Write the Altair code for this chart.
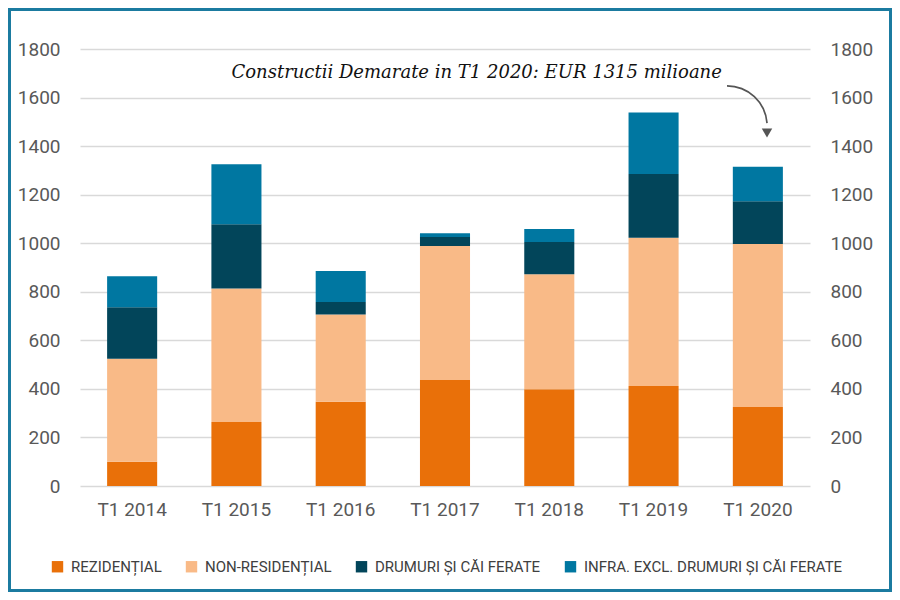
import altair as alt
import pandas as pd

quarters = ["T1 2014", "T1 2015", "T1 2016", "T1 2017", "T1 2018", "T1 2019", "T1 2020"]
series = ["REZIDENȚIAL", "NON-RESIDENȚIAL", "DRUMURI ȘI CĂI FERATE", "INFRA. EXCL. DRUMURI ȘI CĂI FERATE"]
colors = ["#E97009", "#F9BA87", "#02455A", "#0077A1"]
rezidential = [100, 264, 347, 437, 398, 412, 325]
non_rezidential = [424, 549, 359, 552, 474, 611, 672]
drumuri = [212, 265, 52, 37, 133, 262, 176]
infra = [128, 247, 128, 15, 54, 253, 142]
y_ticks = [0, 200, 400, 600, 800, 1000, 1200, 1400, 1600, 1800]
annotation = "Constructii Demarate in T1 2020: EUR 1315 milioane"

rows = []
for si, (name, vals) in enumerate(zip(series, [rezidential, non_rezidential, drumuri, infra])):
    for q, v in zip(quarters, vals):
        rows.append({"trimestru": q, "serie": name, "valoare": v, "ordine": si})
df = pd.DataFrame(rows)

FONT = "Roboto, sans-serif"
W, H = 730, 437
PAD = {"left": 72, "top": 41, "right": 82, "bottom": 106}

yscale = alt.Scale(domain=[0, 1800], nice=False)
xenc = alt.X("trimestru:N", sort=quarters, title=None,
             scale=alt.Scale(paddingInner=0.52, paddingOuter=0.26),
             axis=alt.Axis(labelAngle=0, labelFontSize=19, labelColor="#595959", labelFont=FONT,
                           labelPadding=14, domain=False, ticks=False, grid=False))

bars = alt.Chart(df).mark_bar().encode(
    x=xenc,
    y=alt.Y("valoare:Q", stack="zero", scale=yscale, title=None,
            axis=alt.Axis(values=y_ticks, format="d", orient="left", labelFontSize=19,
                          labelColor="#595959", labelFont=FONT, labelPadding=20, domain=False,
                          ticks=False, grid=True, gridColor="#d9d9d9", gridWidth=1.5)),
    color=alt.Color("serie:N", sort=series, scale=alt.Scale(domain=series, range=colors),
                    legend=alt.Legend(title=None, orient="none", direction="horizontal",
                                      legendX=-30, legendY=510, symbolType="square", symbolSize=130,
                                      symbolStrokeWidth=0, labelFont=FONT, labelFontSize=15,
                                      labelColor="#404040", columnPadding=22, labelOffset=6,
                                      labelLimit=400)),
    order=alt.Order("ordine:Q"),
)

ann_df = pd.DataFrame({"trimestru": ["T1 2020"], "valoare": [1700], "text": [annotation]})
ann = alt.Chart(ann_df).mark_text(align="right", baseline="middle", dx=-36, fontSize=18,
                                  fontStyle="italic", font="'DejaVu Serif', serif", color="#111111").encode(
    x=alt.X("trimestru:N", sort=quarters),
    y=alt.Y("valoare:Q", scale=yscale, title=None,
            axis=alt.Axis(values=y_ticks, format="d", orient="right", labelFontSize=19,
                          labelColor="#595959", labelFont=FONT, labelPadding=20, domain=False,
                          ticks=False, grid=False)),
    text="text:N",
)

one = alt.Data(values=[{}])
arrow_arc = alt.Chart(one).mark_arc(radius=41, radius2=39.3, theta=0.0, theta2=1.5,
                                    color="#555555").encode(
    x=alt.value(647), y=alt.value(77))
arrow_head = alt.Chart(one).mark_point(shape="triangle-down", filled=True, size=110,
                                       color="#555555", opacity=1).encode(
    x=alt.value(687), y=alt.value(84))
frame = alt.Chart(one).mark_rect(fill="transparent", stroke="#1B7BA0", strokeWidth=3).encode(
    x=alt.value(-70.5), x2=alt.value(810.5), y=alt.value(-39.5), y2=alt.value(541.5))

chart = alt.layer(bars, ann, arrow_arc, arrow_head, frame).resolve_scale(y="independent").properties(
    width=W, height=H, padding=PAD, autosize=alt.AutoSizeParams(type="none"),
    background="white",
).configure_view(stroke=None)

chart.save("out.html", embed_options={"renderer": "svg", "actions": False})
